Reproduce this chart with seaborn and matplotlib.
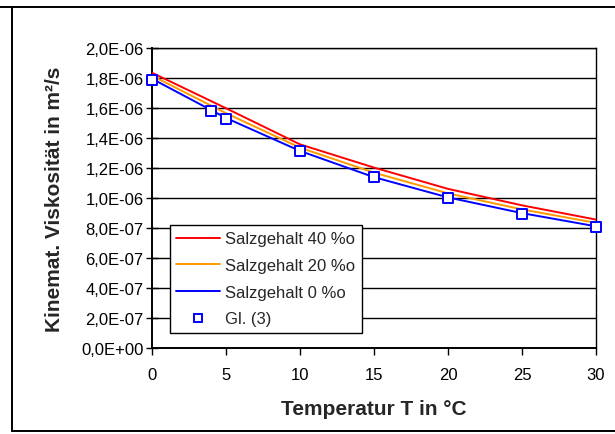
import numpy as np
import pandas as pd
import seaborn as sns
import matplotlib
matplotlib.use("Agg")
import matplotlib.pyplot as plt
from matplotlib.lines import Line2D
from matplotlib.ticker import FuncFormatter, MultipleLocator

# Kinematische Viskosität (m²/s) über Temperatur
temps = [0, 5, 10, 15, 20, 25, 30]
visc_40 = [1.837e-6, 1.600e-6, 1.359e-6, 1.204e-6, 1.062e-6, 0.952e-6, 0.857e-6]
visc_20 = [1.817e-6, 1.567e-6, 1.337e-6, 1.170e-6, 1.032e-6, 0.925e-6, 0.835e-6]
visc_0 = [1.797e-6, 1.535e-6, 1.315e-6, 1.140e-6, 1.005e-6, 0.900e-6, 0.812e-6]

gl3_temps = [0, 4, 5, 10, 15, 20, 25, 30]
gl3_visc = [1.787e-6, 1.580e-6, 1.530e-6, 1.314e-6, 1.143e-6, 1.003e-6, 0.897e-6, 0.810e-6]

series_labels = ["Salzgehalt 40 %o", "Salzgehalt 20 %o", "Salzgehalt 0 %o"]
series_colors = ["#FF0000", "#FF9900", "#0000FF"]

sns.set_style("ticks")
plt.rcParams['font.family'] = ['Liberation Sans', 'DejaVu Sans']

fig = plt.figure(figsize=(6.15, 4.35), dpi=100)
ax = fig.add_axes([152 / 615, 1 - 349 / 435, 444 / 615, (349 - 49.3) / 435])

for vals, label, color in zip([visc_40, visc_20, visc_0], series_labels, series_colors):
    sns.lineplot(x=temps, y=vals, ax=ax, color=color, linewidth=1.4, label=label, zorder=3)

sns.scatterplot(x=gl3_temps, y=gl3_visc, ax=ax, marker='s', s=42, facecolor='white',
                edgecolor='#0000FF', linewidth=1.4, zorder=5, clip_on=False, label="Gl. (3)")

ax.set_xlim(0, 30)
ax.set_ylim(0, 2.0e-6)
ax.xaxis.set_major_locator(MultipleLocator(5))
ax.yaxis.set_major_locator(MultipleLocator(0.2e-6))
ax.yaxis.set_major_formatter(FuncFormatter(lambda v, p: f"{v:.1E}".replace('.', ',')))
ax.yaxis.get_offset_text().set_visible(False)

ax.grid(axis='y', color='black', linewidth=1.0)
ax.grid(axis='x', visible=False)
for sp in ax.spines.values():
    sp.set_visible(True)
    sp.set_color('black')
    sp.set_linewidth(1.0)
ax.spines['left'].set_linewidth(1.4)
ax.spines['bottom'].set_linewidth(1.4)

ax.tick_params(axis='y', direction='inout', length=8, width=1.0, pad=2, labelsize=12, colors='black')
ax.tick_params(axis='x', direction='out', length=5, width=1.0, pad=9, labelsize=12, colors='black')

ax.set_xlabel("Temperatur T in °C", fontsize=15, fontweight='bold')
ax.set_ylabel("Kinemat. Viskosität in m²/s", fontsize=15, fontweight='bold')
ax.xaxis.set_label_coords(0.5, -0.17)
ax.yaxis.set_label_coords(-0.198, 0.5)

handles, labels = ax.get_legend_handles_labels()
handles[-1] = Line2D([], [], linestyle='none', marker='s', markersize=6,
                     markerfacecolor='white', markeredgecolor='#0000FF', markeredgewidth=1.4)
leg = ax.legend(handles, labels, loc='lower left', bbox_to_anchor=(0.04, 0.05),
                borderaxespad=0, fontsize=12, frameon=True, fancybox=False,
                edgecolor='black', framealpha=1, handlelength=2.6, handletextpad=0.3,
                labelspacing=0.7, borderpad=0.4)
leg.get_frame().set_linewidth(1.0)
leg.set_zorder(10)

# Rahmen des Diagrammbereichs
fig.add_artist(Line2D([0, 1], [1 - 8 / 435, 1 - 8 / 435], color='black', linewidth=1.4))
fig.add_artist(Line2D([12 / 615, 12 / 615], [1 - 8 / 435, 1 - 432 / 435], color='black', linewidth=1.4))
fig.add_artist(Line2D([12 / 615, 1], [1 - 432 / 435, 1 - 432 / 435], color='black', linewidth=1.4))

plt.savefig("out.png", dpi=100)
